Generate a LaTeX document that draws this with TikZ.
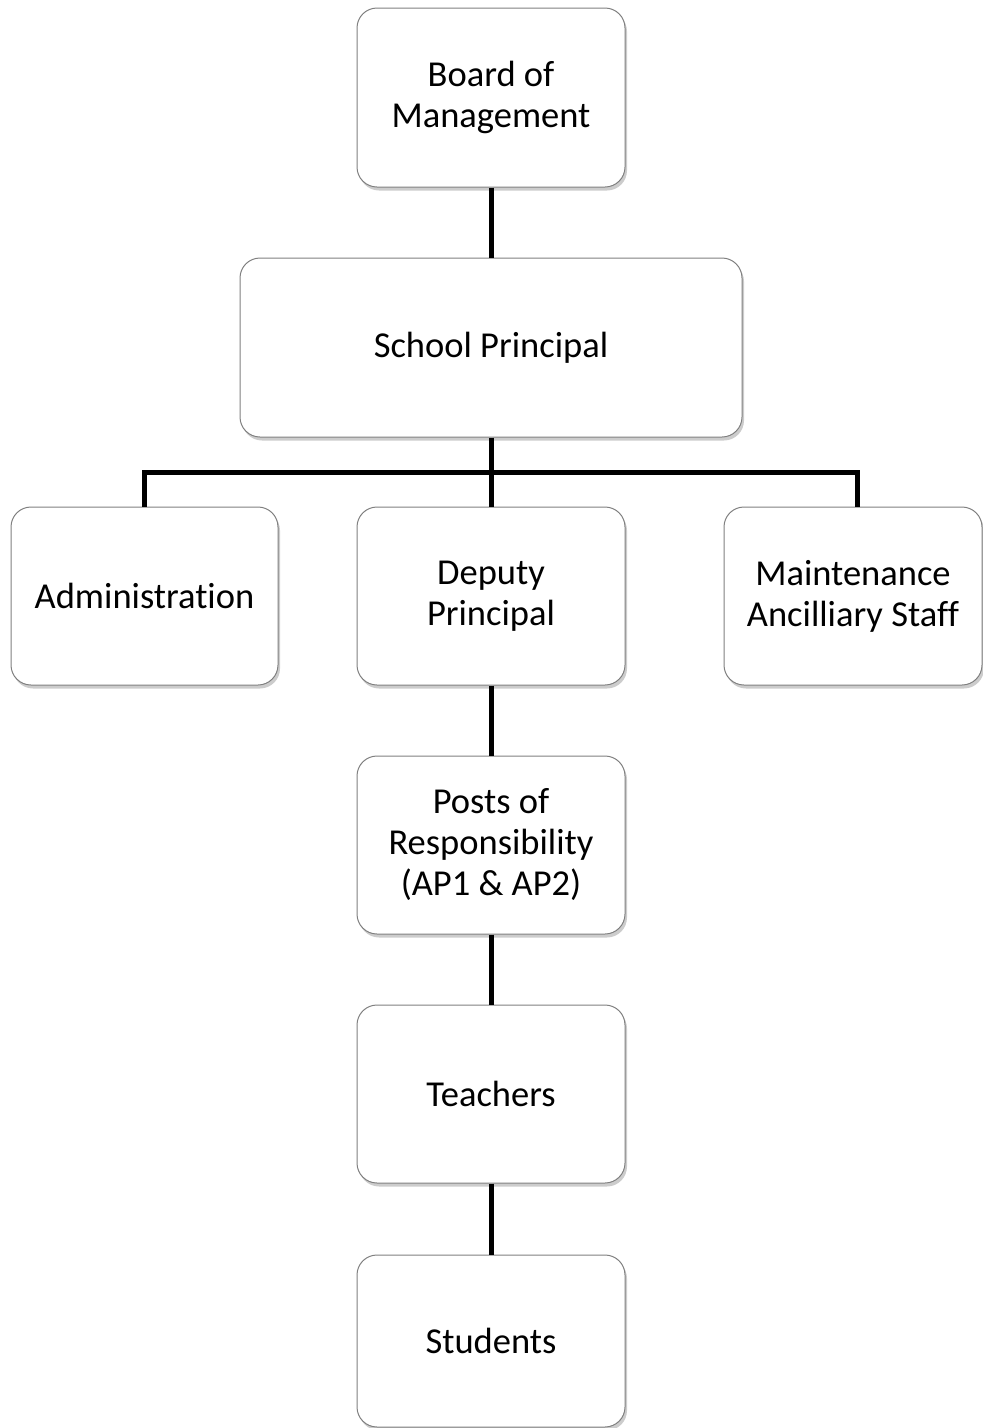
\documentclass[tikz,border=0pt]{standalone}
\usepackage{fontspec}
\setmainfont{Carlito}[Ligatures=CommonOff]
\usetikzlibrary{shadows}
\begin{document}
\begin{tikzpicture}[x=1pt,y=1pt,
  orgbox/.style={draw=black!50, line width=1pt, fill=white, rounded corners=20pt,
    align=center, inner sep=0pt, text=black,
    font=\fontsize{36.5}{41}\selectfont,
    drop shadow={opacity=0.4, shadow xshift=2pt, shadow yshift=-3.5pt}},
  link/.style={line width=5pt, draw=black}]
\useasboundingbox (0,0) rectangle (983,-1428);
\node[orgbox, minimum width=268pt, minimum height=179pt] (board) at (491,-97.5) {Board of\\Management};
\node[orgbox, minimum width=502pt, minimum height=179pt] (principal) at (491,-347.5) {School Principal};
\node[orgbox, minimum width=267pt, minimum height=178pt] (admin) at (144.5,-596) {Administration};
\node[orgbox, minimum width=268pt, minimum height=178pt] (deputy) at (491,-596) {Deputy\\Principal};
\node[orgbox, minimum width=258pt, minimum height=178pt] (maint) at (853,-596) {Maintenance\\Ancilliary Staff};
\node[orgbox, minimum width=268pt, minimum height=178pt] (posts) at (491,-845) {Posts of\\Responsibility\\(AP1 \& AP2)};
\node[orgbox, minimum width=268pt, minimum height=178pt] (teachers) at (491,-1094) {Teachers};
\node[orgbox, minimum width=268pt, minimum height=172pt] (students) at (491,-1341) {Students};
\coordinate (bus) at (491,-472);
\coordinate (mtop) at (857,-507);
\draw[link] (board.south) -- (principal.north);
\draw[link] (principal.south) -- (deputy.north);
\draw[link] (admin.north) |- (bus) -| (mtop);
\draw[link] (deputy.south) -- (posts.north);
\draw[link] (posts.south) -- (teachers.north);
\draw[link] (teachers.south) -- (students.north);
\end{tikzpicture}
\end{document}
